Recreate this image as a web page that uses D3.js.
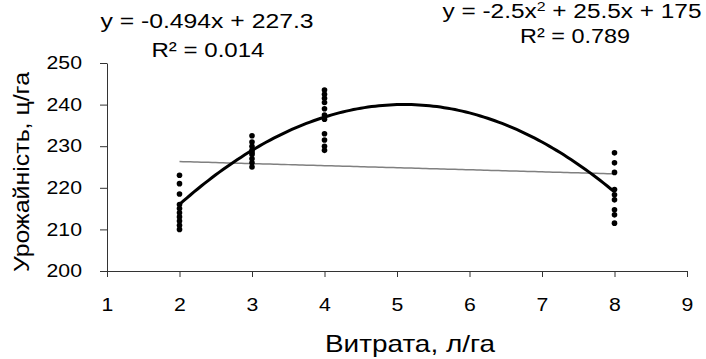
<!DOCTYPE html>
<html><head><meta charset="utf-8">
<script src="https://cdn.jsdelivr.net/npm/d3@7"></script>
<style>body{margin:0;background:#fff}svg{display:block;font-family:"Liberation Sans",Arial,sans-serif}</style>
</head><body><svg id="c" width="706" height="359"></svg>
<script>
const doses = [2, 3, 4, 8];
const yields2 = [223, 221, 218.5, 216, 215, 214, 213, 212, 211, 210];
const yields3 = [232.5, 231, 230, 229, 228.5, 228, 227, 226, 225];
const yields4 = [243.5, 242.5, 241.5, 240.5, 239, 237.5, 236.5, 233, 231.5, 230, 229];
const yields8 = [228.4, 226, 223.7, 219.6, 218.3, 217.1, 214.7, 213.5, 211.5];
const xTicks = [1, 2, 3, 4, 5, 6, 7, 8, 9];
const yTicks = [200, 210, 220, 230, 240, 250];
const linCoef = [-0.494, 227.3];
const quadCoef = [-2.5, 25.5, 175];

const svg = d3.select("#c");
const x = d3.scaleLinear().domain([1, 9]).range([107, 687]);
const y = d3.scaleLinear().domain([200, 250]).range([271, 63]);

function stretch(sel, k) {
  sel.each(function () {
    const L = this.getComputedTextLength();
    d3.select(this).attr("textLength", L * k).attr("lengthAdjust", "spacingAndGlyphs");
  });
}

const xa = svg.append("g").attr("transform", "translate(0,271)")
  .call(d3.axisBottom(x).tickValues(xTicks).tickSize(6).tickPadding(21).tickSizeOuter(0));
const ya = svg.append("g").attr("transform", "translate(107,0)")
  .call(d3.axisLeft(y).tickValues(yTicks).tickSize(7).tickPadding(18).tickSizeOuter(0));
[xa, ya].forEach(a => {
  a.selectAll("path,line").attr("stroke", "#333");
  a.selectAll("text").attr("font-size", 18).attr("fill", "#000").attr("font-family", "Liberation Sans, Arial");
  stretch(a.selectAll("text"), 1.18);
});

const series = [yields2, yields3, yields4, yields8];
const pts = [];
series.forEach((arr, i) => arr.forEach(v => pts.push([doses[i], v])));

const xs = d3.range(2, 8.001, 0.05);
svg.append("path").datum(xs)
  .attr("d", d3.line().x(d => x(d)).y(d => y(linCoef[0] * d + linCoef[1])))
  .attr("fill", "none").attr("stroke", "#808080").attr("stroke-width", 1.5);
svg.append("path").datum(xs)
  .attr("d", d3.line().x(d => x(d)).y(d => y(quadCoef[0] * d * d + quadCoef[1] * d + quadCoef[2])))
  .attr("fill", "none").attr("stroke", "#000").attr("stroke-width", 3);

svg.append("g").selectAll("circle").data(pts).join("circle")
  .attr("cx", d => x(d[0])).attr("cy", d => y(d[1])).attr("r", 2.8).attr("fill", "#000");

function label(xc, yb, size, len, build) {
  const t = svg.append("text").attr("x", xc).attr("y", yb).attr("text-anchor", "middle")
    .attr("font-size", size).attr("fill", "#000");
  build(t);
  t.attr("textLength", len).attr("lengthAdjust", "spacingAndGlyphs");
  return t;
}
label(207, 28, 20, 213, t => t.text("y = -0.494x + 227.3"));
label(208, 57, 20, 113, t => t.text("R² = 0.014"));
label(572, 18, 20, 259, t => {
  t.append("tspan").text("y = -2.5x");
  t.append("tspan").attr("dy", -7).attr("font-size", 13).text("2");
  t.append("tspan").attr("dy", 7).text(" + 25.5x + 175");
});
label(575, 43, 20, 110, t => t.text("R² = 0.789"));

label(410, 352, 24, 170, t => t.text("Витрата, л/га"));
svg.append("text").attr("transform", "translate(29,172) rotate(-90)").attr("text-anchor", "middle")
  .attr("font-size", 22).attr("textLength", 200).attr("lengthAdjust", "spacingAndGlyphs")
  .text("Урожайність, ц/га");
</script></body></html>
